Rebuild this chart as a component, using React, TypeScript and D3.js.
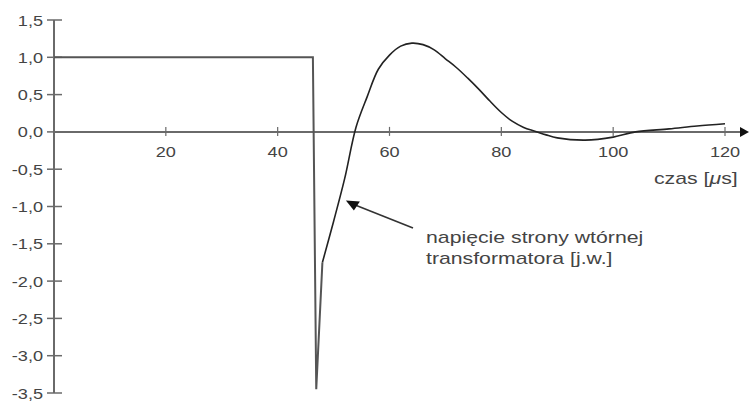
import React from "react";
import * as d3 from "d3";

// time axis [µs] and voltage [p.u.]
const timeTicks = [20, 40, 60, 80, 100, 120];
const voltTicks = [1.5, 1.0, 0.5, 0.0, -0.5, -1.0, -1.5, -2.0, -2.5, -3.0, -3.5];

// secondary voltage: rectangular part and the collapse spike
const pulseT = [0, 46.3, 46.9, 48];
const pulseV = [1.0, 1.0, -3.45, -1.75];

// damped oscillation after the spike
const waveT = [48, 50, 52, 54, 56, 58, 60, 62, 64, 66, 68, 70, 72, 74, 76, 78, 80, 82, 84, 86, 88, 90, 95, 100, 104, 110, 115, 120];
const waveV = [-1.75, -1.2, -0.62, 0.06, 0.47, 0.84, 1.03, 1.15, 1.19, 1.17, 1.1, 0.98, 0.86, 0.72, 0.57, 0.41, 0.26, 0.14, 0.06, 0.01, -0.04, -0.08, -0.11, -0.07, 0.0, 0.04, 0.08, 0.11];

const W = 749;
const H = 407;
const SX = 1.25; // horizontal stretch of the lettering

function Label(props: {
  x: number;
  y: number;
  size: number;
  anchor?: "start" | "middle" | "end";
  children: React.ReactNode;
}) {
  return (
    <g transform={`translate(${props.x},${props.y}) scale(${SX},1)`}>
      <text x={0} y={0} textAnchor={props.anchor ?? "start"} fontSize={props.size} fill="#444">
        {props.children}
      </text>
    </g>
  );
}

export default function App() {
  const x = d3.scaleLinear().domain([0, 120]).range([54, 725]);
  const y = d3.scaleLinear().domain([1.5, -3.5]).range([20, 393]);

  const pulse = d3
    .line<number>()
    .x((_, i) => x(pulseT[i]))
    .y((d) => y(d))
    .curve(d3.curveLinear)(pulseV);

  const wave = d3
    .line<number>()
    .x((_, i) => x(waveT[i]))
    .y((d) => y(d))
    .curve(d3.curveCatmullRom.alpha(0.5))(waveV);

  const axisColor = "#6a6a6a";
  const font = "Liberation Sans, Arial, sans-serif";

  const tipX = x(52.2);
  const tipY = y(-0.92);

  return (
    <svg
      width={W}
      height={H}
      style={{ position: "absolute", left: 0, top: 0, background: "#fff" }}
      fontFamily={font}
    >
      {/* y axis */}
      <line x1={x(0)} x2={x(0)} y1={y(1.5)} y2={y(-3.5)} stroke={axisColor} strokeWidth={2} />
      {voltTicks.map((v) => (
        <g key={v}>
          <line x1={x(0) - 7} x2={x(0) + 8} y1={y(v)} y2={y(v)} stroke={axisColor} strokeWidth={1.5} />
          <Label x={43} y={y(v) + 5.5} size={14.5} anchor="end">
            {d3.format(".1f")(v).replace(".", ",").replace("−", "-")}
          </Label>
        </g>
      ))}

      {/* x axis with arrow */}
      <line x1={x(0)} x2={742} y1={y(0)} y2={y(0)} stroke={axisColor} strokeWidth={2} />
      <path d={`M749,${y(0)} L740,${y(0) - 5} L740,${y(0) + 5} Z`} fill="#111" />
      {timeTicks.map((t) => (
        <g key={t}>
          <line x1={x(t)} x2={x(t)} y1={y(0) - 5} y2={y(0) + 4} stroke={axisColor} strokeWidth={1.2} />
          <Label x={x(t)} y={y(0) + 25} size={14.5} anchor="middle">
            {t}
          </Label>
        </g>
      ))}
      <Label x={654} y={184} size={17}>
        czas [<tspan fontStyle="italic">μ</tspan>s]
      </Label>

      {/* signal */}
      <path d={pulse ?? ""} fill="none" stroke="#555" strokeWidth={2} strokeLinejoin="miter" />
      <path d={wave ?? ""} fill="none" stroke="#222" strokeWidth={1.6} />

      {/* annotation */}
      <line x1={tipX + 8} y1={tipY + 4} x2={413} y2={228} stroke="#333" strokeWidth={1.6} />
      <path
        d={`M${tipX},${tipY} L${tipX + 14},${tipY + 1} L${tipX + 8},${tipY + 10} Z`}
        fill="#111"
      />
      <Label x={426} y={243} size={17}>
        napięcie strony wtórnej
      </Label>
      <Label x={426} y={264} size={17}>
        transformatora [j.w.]
      </Label>
    </svg>
  );
}
